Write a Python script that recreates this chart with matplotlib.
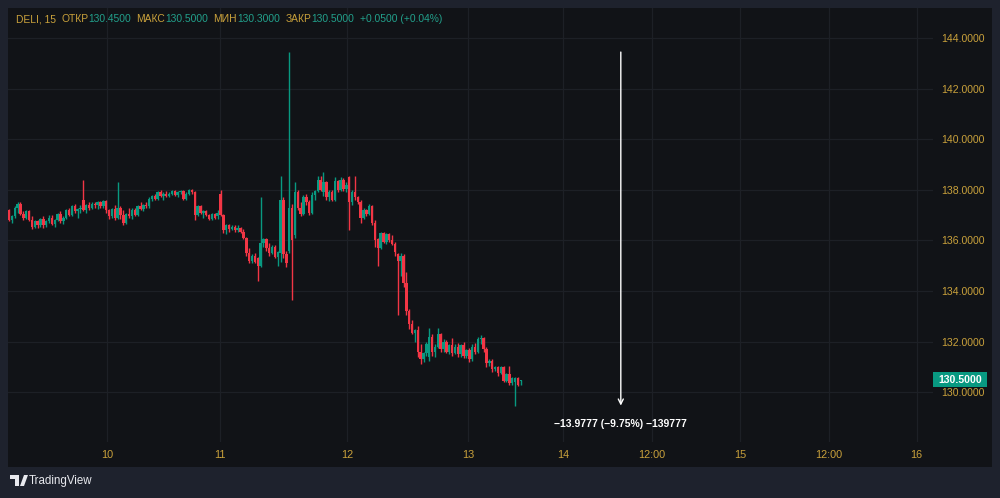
"""Candlestick chart of DELI, 15 min bars, TradingView dark style."""

import matplotlib
matplotlib.use('Agg')
import matplotlib.pyplot as plt
from matplotlib.patches import Rectangle, Polygon
from matplotlib.transforms import blended_transform_factory
import numpy as np

# OHLC, 15 min bars
opens = [
    137.2, 136.8, 136.95, 137.3, 137.45, 137.05, 136.9, 137.15, 136.8, 136.55,
    136.75, 136.6, 136.85, 136.6, 136.75, 136.9, 136.65, 136.8, 137.05, 136.75,
    136.9, 137.2, 137.0, 137.35, 137.15, 137.25, 137.6, 137.2, 137.4, 137.3,
    137.45, 137.4, 137.5, 137.35, 137.55, 137.2, 136.95, 137.25, 136.9, 137.3,
    137.0, 136.7, 137.05, 136.95, 137.2, 137.0, 137.35, 137.25, 137.4, 137.35,
    137.65, 137.75, 137.65, 137.9, 137.75, 137.85, 137.75, 137.85, 137.95, 137.8,
    137.9, 137.95, 137.65, 137.85, 138.0, 137.9, 137.0, 137.35, 137.1, 137.15,
    137.0, 136.85, 137.05, 136.95, 137.85, 137.0, 136.4, 136.6, 136.45, 136.55,
    136.4, 136.5, 136.35, 136.1, 135.5, 135.2, 135.4, 135.3, 135.0, 135.9,
    136.05, 135.7, 135.5, 135.75, 135.35, 135.5, 137.6, 135.45, 135.6, 137.3,
    136.2, 137.9, 137.3, 137.05, 137.7, 137.5, 137.1, 137.8, 137.95, 138.4,
    137.9, 138.3, 137.7, 137.9, 137.6, 138.35, 138.0, 138.4, 138.05, 138.5,
    137.5, 137.9, 137.7, 137.5, 136.9, 137.2, 137.05, 137.35, 136.7, 136.05,
    135.7, 136.3, 135.95, 136.25, 136.0, 135.85, 135.45, 135.2, 135.4, 134.3,
    133.2, 132.7, 132.35, 132.45, 131.6, 131.3, 131.55, 131.4, 132.2, 131.6,
    131.8, 132.3, 131.7, 132.0, 131.6, 131.85, 131.55, 131.8, 131.5, 131.85,
    131.45, 131.65, 131.3, 131.8, 131.6, 132.1, 132.15, 131.7, 131.15, 131.25,
    130.9, 131.0, 130.75, 131.0, 130.45, 130.7, 130.35, 130.4, 130.55, 130.45,
]
highs = [
    137.25, 137.0, 137.35, 137.5, 137.5, 137.15, 137.2, 137.2, 136.95, 136.8,
    136.8, 136.9, 136.95, 136.8, 137.0, 137.0, 136.85, 137.1, 137.15, 136.95,
    137.25, 137.3, 137.4, 137.45, 137.3, 137.4, 138.4, 137.45, 137.5, 137.5,
    137.5, 137.55, 137.55, 137.6, 137.6, 137.25, 137.3, 137.4, 138.3, 137.35,
    137.2, 137.1, 137.3, 137.3, 137.3, 137.4, 137.5, 137.45, 137.5, 137.7,
    137.8, 137.85, 137.95, 138.0, 137.9, 137.95, 137.9, 138.0, 138.0, 137.95,
    138.0, 138.0, 137.9, 138.05, 138.05, 137.95, 137.4, 137.4, 137.2, 137.2,
    137.05, 137.1, 137.1, 137.2, 138.0, 137.05, 136.65, 136.65, 136.6, 136.6,
    136.6, 136.55, 136.45, 136.15, 135.7, 135.45, 135.5, 135.35, 137.7, 136.1,
    136.1, 135.9, 135.8, 135.8, 135.6, 138.55, 137.7, 135.6, 143.45, 137.45,
    138.3, 138.0, 137.5, 137.8, 137.85, 137.6, 137.9, 138.0, 138.55, 138.55,
    138.7, 138.35, 138.0, 138.0, 138.5, 138.4, 138.5, 138.45, 138.3, 138.55,
    138.0, 138.55, 137.75, 137.6, 137.3, 137.25, 137.45, 137.4, 136.8, 136.1,
    136.35, 136.35, 136.3, 136.3, 136.2, 135.95, 135.5, 135.5, 135.45, 134.75,
    133.3, 132.85, 132.5, 132.6, 131.9, 131.6, 132.0, 132.55, 132.3, 131.9,
    132.55, 132.35, 132.1, 132.05, 131.9, 132.15, 131.9, 131.95, 131.9, 132.0,
    131.7, 131.75, 131.9, 131.95, 132.2, 132.25, 132.2, 131.8, 131.3, 131.3,
    131.05, 131.05, 131.05, 131.05, 130.75, 131.05, 130.6, 130.6, 130.6, 130.5,
]
lows = [
    136.75, 136.7, 136.9, 137.1, 137.0, 136.8, 136.85, 136.75, 136.45, 136.5,
    136.5, 136.55, 136.5, 136.55, 136.7, 136.6, 136.55, 136.75, 136.7, 136.65,
    136.85, 136.95, 136.95, 137.1, 136.9, 137.1, 137.15, 137.1, 137.2, 137.25,
    137.3, 137.25, 137.3, 137.3, 137.1, 136.85, 136.9, 136.8, 136.85, 136.85,
    136.6, 136.65, 136.9, 136.85, 136.95, 136.95, 137.2, 137.15, 137.3, 137.3,
    137.55, 137.6, 137.6, 137.7, 137.6, 137.7, 137.7, 137.8, 137.75, 137.7,
    137.85, 137.6, 137.6, 137.8, 137.85, 136.8, 136.95, 137.05, 136.9, 136.95,
    136.8, 136.8, 136.85, 136.85, 136.95, 136.3, 136.25, 136.35, 136.4, 136.35,
    136.35, 136.3, 136.05, 135.4, 135.1, 135.1, 135.1, 134.4, 134.95, 135.75,
    135.6, 135.4, 135.45, 135.3, 135.0, 135.15, 135.3, 134.95, 135.5, 133.65,
    136.1, 137.2, 136.95, 137.0, 137.4, 137.0, 137.05, 137.6, 137.9, 137.95,
    137.75, 137.6, 137.55, 137.55, 137.55, 137.9, 137.95, 137.95, 137.9, 136.4,
    137.4, 137.6, 137.45, 136.7, 136.85, 136.95, 137.0, 136.6, 135.75, 135.0,
    135.65, 135.9, 135.85, 135.95, 135.8, 135.4, 133.05, 134.6, 134.15, 133.05,
    132.5, 132.3, 132.0, 131.4, 131.1, 131.2, 131.45, 131.25, 131.45, 131.4,
    131.75, 131.6, 131.6, 131.55, 131.5, 131.45, 131.5, 131.4, 131.4, 131.35,
    131.35, 131.2, 131.25, 131.5, 131.55, 131.9, 131.6, 131.0, 131.05, 130.8,
    130.85, 130.65, 130.7, 130.4, 130.4, 130.3, 130.3, 129.45, 130.25, 130.3,
]
closes = [
    136.8, 136.95, 137.3, 137.45, 137.05, 136.9, 137.15, 136.8, 136.55, 136.75,
    136.6, 136.85, 136.6, 136.75, 136.9, 136.65, 136.8, 137.05, 136.75, 136.9,
    137.2, 137.0, 137.35, 137.15, 137.25, 137.3, 137.2, 137.4, 137.3, 137.45,
    137.4, 137.5, 137.35, 137.55, 137.2, 136.95, 137.25, 136.9, 137.3, 137.0,
    136.7, 137.05, 136.95, 137.2, 137.0, 137.35, 137.25, 137.4, 137.35, 137.65,
    137.75, 137.65, 137.9, 137.75, 137.85, 137.75, 137.85, 137.95, 137.8, 137.9,
    137.95, 137.65, 137.85, 138.0, 137.9, 137.0, 137.35, 137.1, 137.15, 137.0,
    136.85, 137.05, 136.9, 137.1, 137.0, 136.4, 136.6, 136.45, 136.55, 136.4,
    136.5, 136.35, 136.1, 135.5, 135.2, 135.4, 135.15, 135.0, 135.9, 136.05,
    135.7, 135.5, 135.75, 135.35, 135.55, 137.6, 135.45, 135.1, 137.3, 136.0,
    137.9, 137.3, 137.05, 137.7, 137.5, 137.1, 137.8, 137.95, 138.4, 138.0,
    138.3, 137.7, 137.9, 137.6, 138.35, 138.0, 138.4, 138.05, 138.2, 137.5,
    137.9, 137.7, 137.5, 136.9, 137.2, 137.05, 137.35, 136.7, 136.0, 135.7,
    136.3, 135.95, 136.25, 136.0, 135.85, 135.55, 135.2, 135.4, 134.3, 133.2,
    132.7, 132.35, 132.45, 131.6, 131.3, 131.55, 131.9, 132.2, 131.6, 131.8,
    132.3, 131.7, 132.0, 131.6, 131.85, 131.55, 131.8, 131.5, 131.85, 131.45,
    131.65, 131.3, 131.8, 131.6, 132.1, 132.15, 131.7, 131.15, 131.25, 130.9,
    131.0, 130.75, 131.0, 130.45, 130.7, 130.35, 130.55, 130.55, 130.3, 130.5,
]

time_labels = ['10', '11', '12', '13', '14', '12:00', '15', '12:00', '16']
time_label_bars = [34.4, 73.7, 118.2, 160.7, 193.7, 224.9, 255.8, 286.7, 317.5]
price_ticks = [130, 132, 134, 136, 138, 140, 142, 144]

legend_names = ['ОТКР', 'МАКС', 'МИН', 'ЗАКР']
legend_values = ['130.4500', '130.5000', '130.3000', '130.5000']
legend_change = '+0.0500 (+0.04%)'
last_price = 130.5

measure_bar = 214.0
measure_top = 143.4477
measure_delta = -13.9777
measure_text = '\u221213.9777 (\u22129.75%) \u2212139777'

BEZEL = '#1e222d'
PANEL = '#111317'
GRID = '#1d2026'
GOLD = '#c9a13b'
TEAL = '#22a08b'
UP = '#089981'
DOWN = '#f23645'

W, H = 1000, 498
plt.rcParams['font.family'] = ['Liberation Sans', 'DejaVu Sans']

fig = plt.figure(figsize=(W / 100, H / 100), dpi=100, facecolor=BEZEL)


def px(x0, y0, x1, y1):
    """Figure-fraction rectangle from pixel box (top-left origin)."""
    return [x0 / W, 1 - y1 / H, (x1 - x0) / W, (y1 - y0) / H]


fig.patches.append(Rectangle((8 / W, 1 - 467 / H), 984 / W, 459 / H,
                             transform=fig.transFigure, facecolor=PANEL,
                             edgecolor='none', zorder=-5))

ax = fig.add_axes(px(8, 8, 933, 442))
ax.set_zorder(2)
ax.set_facecolor(PANEL)
for spine in ax.spines.values():
    spine.set_visible(False)

n = len(closes)
xs = np.arange(n)
o = np.array(opens)
c = np.array(closes)
hi = np.array(highs)
lo = np.array(lows)
colors = [UP if cc >= oo else DOWN for oo, cc in zip(o, c)]

ax.vlines(xs, lo, hi, colors=colors, linewidth=1.0, zorder=3)
body_h = np.maximum(np.abs(c - o), 0.04)
ax.bar(xs, body_h, bottom=np.minimum(o, c), width=0.85, color=colors,
       linewidth=0, zorder=4)

ax.set_xlim(-0.35, 323.2)
ax.set_ylim(128.03, 145.19)

ax.set_xticks(time_label_bars)
ax.set_xticklabels(time_labels)
ax.set_yticks(price_ticks)
ax.set_yticklabels(['%.4f' % p for p in price_ticks])
ax.yaxis.tick_right()
ax.tick_params(axis='x', length=0, pad=6.0, colors=GOLD, labelsize=7.8)
ax.tick_params(axis='y', length=0, pad=5.8, colors=GOLD, labelsize=7.6)
ax.grid(True, color=GRID, linewidth=0.9, zorder=0)
ax.set_axisbelow(True)

# measurement arrow
ax.annotate('', xy=(measure_bar, measure_top + measure_delta),
            xytext=(measure_bar, measure_top),
            arrowprops=dict(arrowstyle='->', color='white', lw=1.0,
                            shrinkA=0, shrinkB=0, mutation_scale=9),
            zorder=6)
ax.text(measure_bar, 128.74, measure_text, color='white', fontsize=7.5,
        fontweight='bold', ha='center', va='center', zorder=6)

# last price tag on the price scale
blend = blended_transform_factory(ax.transAxes, ax.transData)
ax.add_patch(Rectangle((1.0, last_price - 0.3), 54 / 925, 0.6,
                       transform=blend, facecolor=UP, edgecolor='none',
                       clip_on=False, zorder=7))
ax.text(1.0 + 27 / 925, last_price, '%.4f' % last_price, transform=blend,
        color='white', fontsize=7.6, fontweight='bold', ha='center',
        va='center', clip_on=False, zorder=8)

# legend line at the top
fig.canvas.draw()
renderer = fig.canvas.get_renderer()
x_pos = 16
y_pos = 1 - 19 / H


def put(text, color, gap):
    global x_pos
    t = fig.text(x_pos / W, y_pos, text, color=color, fontsize=7.4,
                 va='center', ha='left', zorder=10)
    bb = t.get_window_extent(renderer)
    x_pos = bb.x1 + gap


put('DELI, 15', GOLD, 5)
for name, val in zip(legend_names, legend_values):
    put(name, GOLD, 0.5)
    put(val, TEAL, 5)
put(legend_change, TEAL, 0)

# TradingView logo
logo = [[(10, 475), (19, 475), (19, 486), (15, 486), (15, 479), (10, 479)],
        [(20, 486), (24, 475), (28, 475), (24, 486)]]
for pts in logo:
    fig.patches.append(Polygon([(x / W, 1 - y / H) for x, y in pts],
                               closed=True, transform=fig.transFigure,
                               facecolor='#e8e9ee', edgecolor='none'))
fig.text(29 / W, 1 - 481 / H, 'TradingView', color='#e8e9ee', fontsize=8.3,
         va='center', ha='left')

fig.savefig('out.png', dpi=100, facecolor=BEZEL)
